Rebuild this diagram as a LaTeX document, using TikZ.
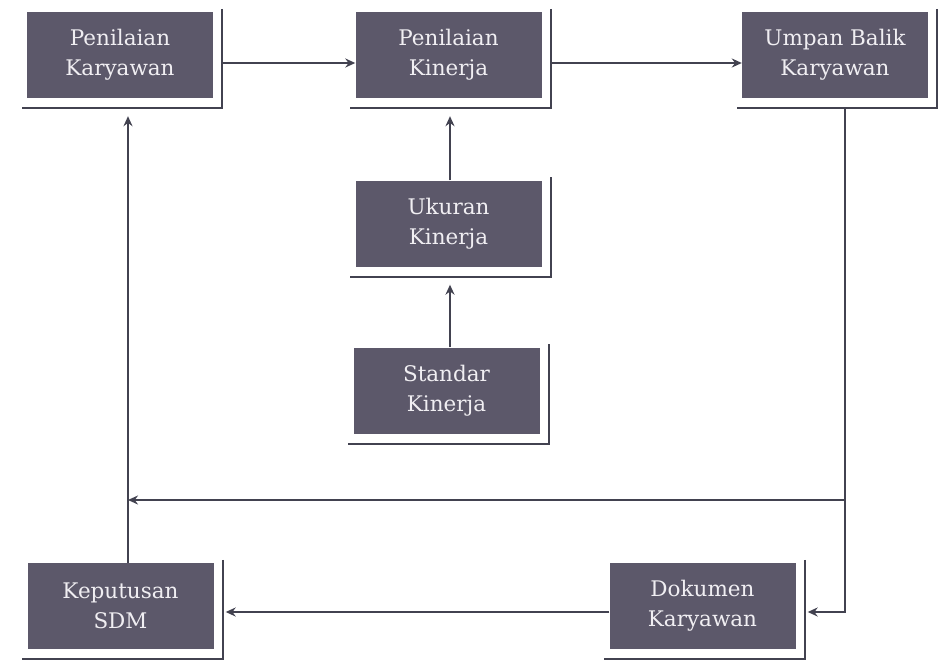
\documentclass[tikz,border=0pt]{standalone}
\usepackage{fontspec}
\setmainfont{DejaVu Serif}
\usetikzlibrary{calc,arrows.meta}
\definecolor{boxfill}{RGB}{92,88,106}
\definecolor{boxtext}{RGB}{240,238,242}
\definecolor{linecol}{RGB}{66,66,80}
\tikzset{
  card/.style={fill=boxfill, text=boxtext, minimum width=186pt, minimum height=86pt,
    inner sep=0pt, align=center, font=\fontsize{21.5}{30}\selectfont},
  frame/.style={draw=linecol, line width=2.2pt},
  link/.style={draw=linecol, line width=2pt, -{Stealth[length=10pt,width=9pt]}}
}
% L-shaped frame drawn to the right of and below a card
\newcommand{\cardframe}[1]{%
  \draw[frame] ($(#1.north east)+(9pt,3pt)$) -- ($(#1.south east)+(9pt,-10pt)$)
    -- ($(#1.south west)+(-5pt,-10pt)$);}
\begin{document}
\begin{tikzpicture}[x=1pt,y=-1pt]
\useasboundingbox[fill=white] (0,0) rectangle (943,661);

\node[card] (pk)   at (120,55)    {Penilaian\\Karyawan};
\node[card] (pkin) at (448.5,55)  {Penilaian\\Kinerja};
\node[card] (ub)   at (835,55)    {Umpan Balik\\Karyawan};
\node[card] (uk)   at (448.5,223.5) {Ukuran\\Kinerja};
\node[card] (sk)   at (446.5,390.5) {Standar\\Kinerja};
\node[card] (ks)   at (120.5,606) {Keputusan\\SDM};
\node[card] (dk)   at (702.5,606) {Dokumen\\Karyawan};

\cardframe{pk}
\cardframe{pkin}
\cardframe{ub}
\cardframe{uk}
\cardframe{sk}
\cardframe{ks}
\cardframe{dk}

% top row
\draw[link] ([xshift=9pt,yshift=-8pt]pk.east) -- ([yshift=-8pt]pkin.west);
\draw[link] ([xshift=9pt,yshift=-8pt]pkin.east) -- ([yshift=-8pt]ub.west);

% centre column
\draw[link] ([xshift=1.5pt]uk.north) -- ([xshift=1.5pt,yshift=-18pt]pkin.south);
\draw[link] ([xshift=3.5pt]sk.north) -- ([xshift=1.5pt,yshift=-18pt]uk.south);

% left return
\draw[link] ([xshift=7.5pt]ks.north) -- ([xshift=8pt,yshift=-18pt]pk.south);

% right feed down to Dokumen Karyawan
\coordinate (jr) at (845,500);
\coordinate (jl) at (128,500);
\draw[link] ([xshift=10pt,yshift=-11pt]ub.south) -- ([xshift=10pt,yshift=-6pt]ub.south |- dk.east)
  -- ([xshift=12pt,yshift=-6pt]dk.east);
\draw[link] (jr) -- (jl);

% bottom row
\draw[link] ([yshift=-6pt]dk.west) -- ([xshift=12pt,yshift=-6pt]ks.east);
\end{tikzpicture}
\end{document}
